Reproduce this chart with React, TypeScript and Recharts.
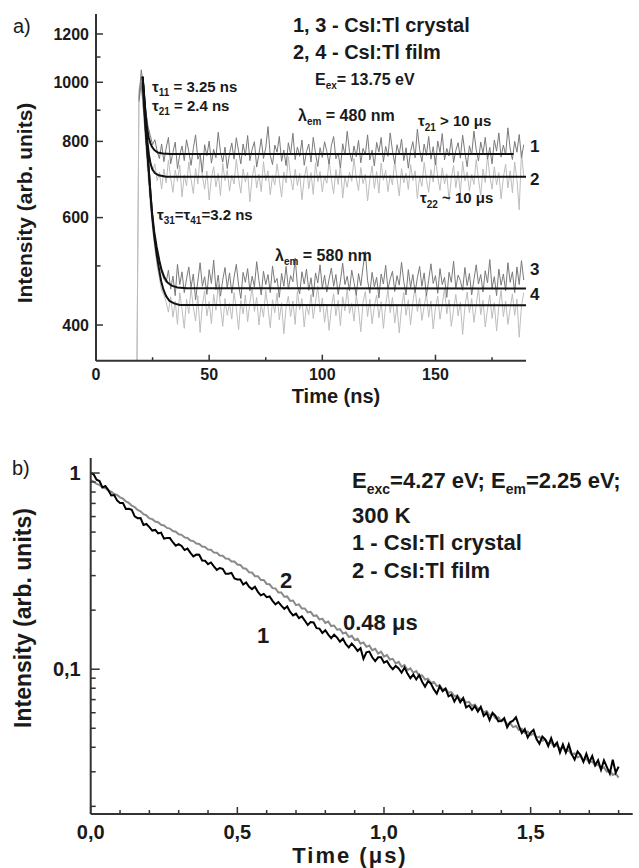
import React from 'react';
import { LineChart, Line, XAxis, YAxis } from 'recharts';

const FONT = '"Liberation Sans", Arial, Helvetica, sans-serif';
const AXIS = '#333333';
const INK = '#1a1a1a';

// ---------- Panel a: time (ns) ----------
const timeA = [
  18, 19, 20, 21, 22, 23, 24, 25, 26, 27,
  28, 29, 30, 31, 32, 33, 34, 35, 36, 37,
  38, 39, 40, 41, 42, 43, 44, 45, 46, 47,
  48, 49, 50, 51, 52, 53, 54, 55, 56, 57,
  58, 59, 60, 61, 62, 63, 64, 65, 66, 67,
  68, 69, 70, 71, 72, 73, 74, 75, 76, 77,
  78, 79, 80, 81, 82, 83, 84, 85, 86, 87,
  88, 89, 90, 91, 92, 93, 94, 95, 96, 97,
  98, 99, 100, 101, 102, 103, 104, 105, 106, 107,
  108, 109, 110, 111, 112, 113, 114, 115, 116, 117,
  118, 119, 120, 121, 122, 123, 124, 125, 126, 127,
  128, 129, 130, 131, 132, 133, 134, 135, 136, 137,
  138, 139, 140, 141, 142, 143, 144, 145, 146, 147,
  148, 149, 150, 151, 152, 153, 154, 155, 156, 157,
  158, 159, 160, 161, 162, 163, 164, 165, 166, 167,
  168, 169, 170, 171, 172, 173, 174, 175, 176, 177,
  178, 179, 180, 181, 182, 183, 184, 185, 186, 187,
  188, 189,
];

// curve 1: CsI:Tl crystal, 480 nm
const crystal480 = [
  null, 940, 1048, 985, 900, 846, 818, 790, 805, 772,
  750, 792, 741, 780, 812, 735, 768, 798, 722, 760,
  786, 744, 805, 770, 731, 779, 820, 748, 765, 712,
  790, 758, 801, 737, 776, 752, 828, 769, 740, 783,
  722, 764, 795, 748, 811, 771, 735, 792, 757, 818,
  744, 777, 799, 726, 762, 808, 750, 781, 846, 759,
  733, 789, 768, 815, 742, 774, 730, 796, 762, 825,
  747, 783, 756, 804, 731, 770, 792, 740, 812, 765,
  728, 781, 753, 799, 770, 734, 788, 815, 749, 766,
  724, 793, 760, 831, 771, 742, 786, 755, 803, 738,
  779, 761, 820, 746, 774, 729, 797, 768, 812, 741,
  785, 756, 826, 772, 735, 790, 762, 807, 744, 781,
  723, 770, 799, 752, 838, 776, 741, 792, 759, 815,
  748, 784, 732, 801, 767, 824, 746, 779, 757, 808,
  739, 773, 796, 751, 819, 768, 727, 787, 760, 832,
  775, 743, 798, 764, 812, 748, 782, 735, 804, 771,
  826, 754, 789, 760, 842, 778, 747, 800, 768, 821,
  752, 790,
];

// curve 2: CsI:Tl film, 480 nm
const film480 = [
  320, 975, 1010, 930, 850, 775, 742, 716, 735, 690,
  712, 668, 721, 684, 745, 697, 660, 718, 688, 732,
  649, 705, 676, 740, 693, 657, 722, 681, 760, 702,
  668, 715, 641, 698, 727, 674, 709, 652, 736, 690,
  718, 663, 704, 681, 748, 695, 658, 721, 686, 712,
  637, 699, 730, 671, 707, 662, 741, 689, 716, 654,
  703, 679, 735, 692, 648, 713, 684, 755, 698, 666,
  720, 677, 709, 642, 696, 728, 669, 711, 655, 738,
  687, 714, 661, 702, 683, 744, 694, 657, 719, 680,
  731, 646, 700, 673, 712, 688, 750, 697, 664, 725,
  682, 706, 639, 693, 729, 670, 714, 658, 737, 691,
  717, 662, 704, 679, 746, 695, 651, 722, 684, 710,
  667, 733, 690, 716, 645, 701, 675, 739, 693, 660,
  719, 686, 752, 699, 665, 724, 681, 708, 640, 697,
  730, 672, 715, 656, 742, 689, 713, 663, 706, 680,
  747, 694, 652, 721, 685, 758, 702, 668, 727, 679,
  711, 644, 698, 734, 671, 716, 659, 740, 692, 618,
  770, 700,
];

// curve 3: CsI:Tl crystal, 580 nm
const crystal580 = [
  null, 930, 1000, 900, 800, 720, 650, 600, 556, 528,
  505, 488, 476, 470, 492, 458, 481, 447, 503, 466,
  489, 452, 476, 498, 461, 485, 440, 472, 506, 463,
  480, 449, 493, 468, 511, 457, 483, 446, 474, 497,
  460, 487, 451, 479, 503, 465, 442, 488, 470, 495,
  455, 481, 462, 508, 473, 448, 490, 466, 484, 452,
  500, 469, 477, 444, 486, 463, 499, 458, 482, 471,
  515, 464, 450, 489, 467, 494, 456, 478, 445, 487,
  469, 502, 460, 483, 453, 476, 496, 463, 484, 449,
  472, 505, 466, 481, 455, 492, 470, 447, 486, 464,
  498, 528, 473, 451, 488, 462, 479, 443, 485, 467,
  501, 458, 476, 490, 454, 482, 465, 507, 471, 448,
  493, 461, 484, 452, 478, 499, 463, 487, 446, 474,
  504, 468, 482, 451, 495, 466, 479, 444, 488, 470,
  509, 459, 483, 473, 456, 497, 464, 486, 448, 475,
  502, 467, 484, 453, 491, 469, 512, 460, 480, 447,
  494, 465, 485, 455, 506, 470, 489, 452, 498, 466,
  510, 474,
];

// curve 4: CsI:Tl film, 580 nm
const film580 = [
  300, 960, 990, 890, 790, 700, 628, 575, 535, 500,
  478, 455, 448, 436, 420, 445, 412, 438, 401, 452,
  425, 395, 441, 418, 460, 428, 406, 447, 389, 431,
  455, 414, 437, 402, 449, 423, 466, 430, 398, 442,
  415, 434, 409, 452, 426, 393, 439, 417, 448, 405,
  436, 461, 421, 444, 400, 433, 412, 456, 427, 396,
  440, 419, 451, 408, 435, 387, 428, 446, 413, 438,
  401, 455, 424, 442, 397, 431, 416, 449, 410, 437,
  463, 420, 443, 404, 432, 392, 427, 450, 414, 439,
  399, 445, 422, 459, 418, 434, 406, 447, 425, 390,
  436, 454, 413, 441, 402, 429, 448, 411, 437, 395,
  432, 457, 419, 444, 403, 430, 388, 426, 452, 415,
  440, 400, 435, 462, 421, 443, 407, 429, 451, 412,
  438, 394, 427, 446, 409, 433, 458, 417, 440, 398,
  424, 449, 414, 436, 386, 428, 453, 419, 442, 404,
  431, 460, 416, 439, 397, 425, 448, 410, 435, 391,
  429, 456, 413, 438, 401, 426, 450, 415, 441, 382,
  430, 452,
];

// fitted decays
const fit1T = [20.6, 21.3, 22.0, 22.6, 23.3, 24.0, 24.8, 25.8, 27.3, 29.5, 33, 184.5];
const fit1V = [1021, 950, 880, 840, 812, 795, 783, 774, 767, 764, 763, 763];
const fit2T = [20.6, 21.3, 22.0, 22.7, 23.4, 24.1, 24.9, 26.0, 27.7, 31, 190];
const fit2V = [1021, 945, 865, 800, 760, 735, 720, 710, 704, 700, 700];
const fit3T = [20.6, 21.3, 22.0, 22.7, 23.4, 24.1, 24.8, 25.7, 26.8, 28.0, 29.0, 30.2, 31.5, 33.5, 36, 40, 190];
const fit3V = [1021, 920, 835, 770, 712, 655, 610, 570, 537, 510, 492, 479, 470, 464, 461, 459.5, 459];
const fit4T = [20.6, 21.3, 22.0, 22.7, 23.4, 24.1, 24.8, 25.7, 26.8, 27.8, 28.8, 29.8, 31.0, 32.5, 34.5, 37, 190];
const fit4V = [1021, 920, 835, 770, 712, 655, 605, 560, 522, 495, 472, 457, 446, 438, 434, 431.5, 431];

const yTicksA = [400, 500, 600, 700, 800, 900, 1000, 1100, 1200];
const yLabelsA: Record<string, string> = { '400': '400', '600': '600', '800': '800', '1000': '1000', '1200': '1200' };
const xTicksA = [0, 25, 50, 75, 100, 125, 150, 175];
const xLabelsA: Record<string, string> = { '0': '0', '50': '50', '100': '100', '150': '150' };

// ---------- Panel b: time (µs) ----------
const timeB = [
  0.00, 0.01, 0.02, 0.03, 0.04, 0.05, 0.06, 0.07, 0.08, 0.09, 0.10,
  0.11, 0.12, 0.13, 0.14, 0.15, 0.16, 0.17, 0.18, 0.19, 0.20,
  0.21, 0.22, 0.23, 0.24, 0.25, 0.26, 0.27, 0.28, 0.29, 0.30,
  0.31, 0.32, 0.33, 0.34, 0.35, 0.36, 0.37, 0.38, 0.39, 0.40,
  0.41, 0.42, 0.43, 0.44, 0.45, 0.46, 0.47, 0.48, 0.49, 0.50,
  0.51, 0.52, 0.53, 0.54, 0.55, 0.56, 0.57, 0.58, 0.59, 0.60,
  0.61, 0.62, 0.63, 0.64, 0.65, 0.66, 0.67, 0.68, 0.69, 0.70,
  0.71, 0.72, 0.73, 0.74, 0.75, 0.76, 0.77, 0.78, 0.79, 0.80,
  0.81, 0.82, 0.83, 0.84, 0.85, 0.86, 0.87, 0.88, 0.89, 0.90,
  0.91, 0.92, 0.93, 0.94, 0.95, 0.96, 0.97, 0.98, 0.99, 1.00,
  1.01, 1.02, 1.03, 1.04, 1.05, 1.06, 1.07, 1.08, 1.09, 1.10,
  1.11, 1.12, 1.13, 1.14, 1.15, 1.16, 1.17, 1.18, 1.19, 1.20,
  1.21, 1.22, 1.23, 1.24, 1.25, 1.26, 1.27, 1.28, 1.29, 1.30,
  1.31, 1.32, 1.33, 1.34, 1.35, 1.36, 1.37, 1.38, 1.39, 1.40,
  1.41, 1.42, 1.43, 1.44, 1.45, 1.46, 1.47, 1.48, 1.49, 1.50,
  1.51, 1.52, 1.53, 1.54, 1.55, 1.56, 1.57, 1.58, 1.59, 1.60,
  1.61, 1.62, 1.63, 1.64, 1.65, 1.66, 1.67, 1.68, 1.69, 1.70,
  1.71, 1.72, 1.73, 1.74, 1.75, 1.76, 1.77, 1.78, 1.79, 1.80,
];

// 1 - CsI:Tl crystal
const crystalB = [
  1.00, 0.985, 0.924, 0.910, 0.845, 0.858, 0.820, 0.769, 0.773, 0.725, 0.703,
  0.703, 0.656, 0.657, 0.650, 0.601, 0.589, 0.590, 0.544, 0.550, 0.530,
  0.509, 0.513, 0.492, 0.497, 0.463, 0.467, 0.466, 0.444, 0.426, 0.434,
  0.425, 0.405, 0.412, 0.392, 0.376, 0.384, 0.383, 0.358, 0.357, 0.343,
  0.350, 0.334, 0.321, 0.328, 0.325, 0.307, 0.307, 0.310, 0.290, 0.287,
  0.287, 0.270, 0.277, 0.263, 0.256, 0.263, 0.248, 0.238, 0.242, 0.233,
  0.235, 0.223, 0.214, 0.220, 0.211, 0.203, 0.209, 0.196, 0.188, 0.192,
  0.182, 0.186, 0.177, 0.168, 0.174, 0.173, 0.162, 0.161, 0.153, 0.158,
  0.150, 0.144, 0.150, 0.145, 0.138, 0.143, 0.134, 0.129, 0.135, 0.130,
  0.124, 0.128, 0.113, 0.122, 0.123, 0.115, 0.110, 0.115, 0.115, 0.108,
  0.110, 0.104, 0.100, 0.104, 0.101, 0.096, 0.102, 0.095, 0.090, 0.094,
  0.0887, 0.0934, 0.0864, 0.0815, 0.0869, 0.0845, 0.0789, 0.0751, 0.0818, 0.0772,
  0.0796, 0.0728, 0.0742, 0.0684, 0.0727, 0.0678, 0.0713, 0.0639, 0.0653, 0.0621,
  0.0649, 0.0609, 0.0643, 0.0579, 0.0600, 0.0550, 0.0599, 0.0578, 0.0542, 0.0545,
  0.0563, 0.0506, 0.0536, 0.0547, 0.0569, 0.0515, 0.0473, 0.0495, 0.0449, 0.0475,
  0.0491, 0.0441, 0.0417, 0.0454, 0.0438, 0.0406, 0.0445, 0.0405, 0.0423, 0.0376,
  0.0414, 0.0376, 0.0414, 0.0369, 0.0346, 0.0381, 0.0365, 0.0337, 0.0371, 0.0335,
  0.0361, 0.0324, 0.0344, 0.0307, 0.0343, 0.0317, 0.0294, 0.0346, 0.0297, 0.0319,
];

// 2 - CsI:Tl film
const filmB = [
  0.920, 0.905, 0.880, 0.870, 0.846, 0.836, 0.814, 0.803, 0.782, 0.773, 0.752,
  0.740, 0.716, 0.704, 0.681, 0.670, 0.648, 0.638, 0.617, 0.608, 0.587,
  0.582, 0.566, 0.561, 0.545, 0.540, 0.525, 0.521, 0.506, 0.502, 0.487,
  0.484, 0.470, 0.467, 0.453, 0.450, 0.437, 0.435, 0.422, 0.420, 0.407,
  0.406, 0.393, 0.392, 0.380, 0.379, 0.367, 0.366, 0.354, 0.354, 0.342,
  0.340, 0.327, 0.325, 0.312, 0.311, 0.298, 0.298, 0.285, 0.285, 0.272,
  0.271, 0.259, 0.258, 0.246, 0.246, 0.234, 0.235, 0.223, 0.224, 0.212,
  0.214, 0.204, 0.204, 0.195, 0.196, 0.187, 0.188, 0.179, 0.181, 0.172,
  0.175, 0.166, 0.167, 0.159, 0.160, 0.152, 0.154, 0.146, 0.148, 0.141,
  0.143, 0.135, 0.137, 0.130, 0.132, 0.125, 0.127, 0.120, 0.123, 0.116,
  0.118, 0.112, 0.113, 0.107, 0.109, 0.103, 0.105, 0.099, 0.101, 0.096,
  0.0978, 0.0925, 0.0930, 0.0886, 0.0895, 0.0852, 0.0862, 0.0820, 0.0830, 0.0788,
  0.0798, 0.0758, 0.0765, 0.0728, 0.0735, 0.0700, 0.0708, 0.0675, 0.0682, 0.0650,
  0.0660, 0.0628, 0.0635, 0.0603, 0.0612, 0.0582, 0.0590, 0.0562, 0.0569, 0.0542,
  0.0552, 0.0525, 0.0531, 0.0507, 0.0514, 0.0490, 0.0497, 0.0474, 0.0481, 0.0462,
  0.0470, 0.0448, 0.0453, 0.0432, 0.0438, 0.0418, 0.0424, 0.0403, 0.0410, 0.0393,
  0.0399, 0.0380, 0.0386, 0.0367, 0.0373, 0.0355, 0.0362, 0.0343, 0.0350, 0.0334,
  0.0339, 0.0322, 0.0327, 0.0311, 0.0316, 0.0300, 0.0305, 0.0289, 0.0294, 0.0280,
];

const yTicksB = [0.02, 0.03, 0.04, 0.05, 0.06, 0.07, 0.08, 0.09, 0.1, 0.2, 0.3, 0.4, 0.5, 0.6, 0.7, 0.8, 0.9, 1];
const yLabelsB: Record<string, string> = { '0.1': '0,1', '1': '1' };
const xTicksB = [0, 0.1, 0.2, 0.3, 0.4, 0.5, 0.6, 0.7, 0.8, 0.9, 1, 1.1, 1.2, 1.3, 1.4, 1.5, 1.6, 1.7, 1.8];
const xLabelsB: Record<string, string> = { '0': '0,0', '0.5': '0,5', '1': '1,0', '1.5': '1,5' };

// ---------- table building ----------
const rowsA = timeA.map((t, i) => ({ t, c1: crystal480[i], c2: film480[i], c3: crystal580[i], c4: film580[i] }));
const rowsB = timeB.map((t, i) => ({ t, b1: crystalB[i], b2: filmB[i] }));
const pairs = (T: number[], V: number[]) => T.map((t, i) => ({ t, v: V[i] }));

type TickOpts = { labels: Record<string, string>; major: number; minor: number; size: number; gap: number };

const leftTick = (o: TickOpts) => (p: any) => {
  const { x, y, payload } = p;
  const lab = o.labels[String(payload.value)];
  return (
    <g>
      <line x1={x} y1={y} x2={x + (lab ? o.major : o.minor)} y2={y} stroke={AXIS} strokeWidth={1.5} />
      {lab ? (
        <text x={x - o.gap} y={y} dy="0.36em" textAnchor="end" fontFamily={FONT} fontWeight="bold" fontSize={o.size} fill={INK}>
          {lab}
        </text>
      ) : null}
    </g>
  );
};

const bottomTick = (o: TickOpts) => (p: any) => {
  const { x, y, payload } = p;
  const lab = o.labels[String(payload.value)];
  return (
    <g>
      <line x1={x} y1={y} x2={x} y2={y - (lab ? o.major : o.minor)} stroke={AXIS} strokeWidth={1.5} />
      {lab ? (
        <text x={x} y={y + o.gap} textAnchor="middle" fontFamily={FONT} fontWeight="bold" fontSize={o.size} fill={INK}>
          {lab}
        </text>
      ) : null}
    </g>
  );
};

const T = (props: any) => <text fontFamily={FONT} fontWeight="bold" fill={INK} {...props} />;

export default function App() {
  return (
    <div style={{ position: 'absolute', left: 0, top: 0, width: 639, height: 868, background: '#fff' }}>
      <div style={{ position: 'absolute', left: 0, top: 0 }}>
        <LineChart width={639} height={430} margin={{ top: 14, right: 113, bottom: 29.3, left: 46 }}>
          <XAxis
            dataKey="t"
            type="number"
            domain={[0, 190]}
            allowDataOverflow
            ticks={xTicksA}
            interval={0}
            tickSize={0}
            tickMargin={0}
            tickLine={false}
            axisLine={{ stroke: AXIS, strokeWidth: 2 }}
            tick={bottomTick({ labels: xLabelsA, major: 6, minor: 3.5, size: 16, gap: 19.5 })}
            height={40}
          />
          <YAxis
            type="number"
            scale="log"
            domain={[349.6, 1294]}
            allowDataOverflow
            ticks={yTicksA}
            interval={0}
            tickSize={0}
            tickMargin={0}
            tickLine={false}
            axisLine={{ stroke: AXIS, strokeWidth: 2 }}
            tick={leftTick({ labels: yLabelsA, major: 7, minor: 4.5, size: 16, gap: 7 })}
            width={50}
          />
          <Line data={rowsA} dataKey="c2" stroke="#bdbdbd" strokeWidth={1} dot={false} isAnimationActive={false} />
          <Line data={rowsA} dataKey="c4" stroke="#bdbdbd" strokeWidth={1} dot={false} isAnimationActive={false} />
          <Line data={rowsA} dataKey="c1" stroke="#7a7a7a" strokeWidth={1} dot={false} isAnimationActive={false} />
          <Line data={rowsA} dataKey="c3" stroke="#7a7a7a" strokeWidth={1} dot={false} isAnimationActive={false} />
          <Line data={pairs(fit1T, fit1V)} dataKey="v" stroke="#111" strokeWidth={2} dot={false} isAnimationActive={false} />
          <Line data={pairs(fit2T, fit2V)} dataKey="v" stroke="#111" strokeWidth={2} dot={false} isAnimationActive={false} />
          <Line data={pairs(fit3T, fit3V)} dataKey="v" stroke="#111" strokeWidth={2} dot={false} isAnimationActive={false} />
          <Line data={pairs(fit4T, fit4V)} dataKey="v" stroke="#111" strokeWidth={2} dot={false} isAnimationActive={false} />
        </LineChart>
      </div>

      <div style={{ position: 'absolute', left: 0, top: 430 }}>
        <LineChart width={639} height={438} margin={{ top: 28, right: 6.3, bottom: 14, left: 40.7 }}>
          <XAxis
            dataKey="t"
            type="number"
            domain={[0, 1.848]}
            allowDataOverflow
            ticks={xTicksB}
            interval={0}
            tickSize={0}
            tickMargin={0}
            tickLine={false}
            axisLine={{ stroke: AXIS, strokeWidth: 2 }}
            tick={bottomTick({ labels: xLabelsB, major: 7, minor: 4, size: 20, gap: 25 })}
            height={40}
          />
          <YAxis
            type="number"
            scale="log"
            domain={[0.01828, 1.193]}
            allowDataOverflow
            ticks={yTicksB}
            interval={0}
            tickSize={0}
            tickMargin={0}
            tickLine={false}
            axisLine={{ stroke: AXIS, strokeWidth: 2 }}
            tick={leftTick({ labels: yLabelsB, major: 9, minor: 5, size: 20, gap: 10 })}
            width={50}
          />
          <Line data={rowsB} dataKey="b2" stroke="#8a8a8a" strokeWidth={2} dot={false} isAnimationActive={false} />
          <Line data={rowsB} dataKey="b1" stroke="#000" strokeWidth={2} dot={false} isAnimationActive={false} />
        </LineChart>
      </div>

      <svg width={639} height={868} style={{ position: 'absolute', left: 0, top: 0, pointerEvents: 'none' }}>
        {/* panel a */}
        <text x={13} y={33} fontFamily={FONT} fontSize={20} fill={INK}>a)</text>
        <T transform="translate(32,203) rotate(-90)" textAnchor="middle" fontSize={21}>Intensity (arb. units)</T>
        <T x={336} y={403} textAnchor="middle" fontSize={20}>Time (ns)</T>
        <T x={293} y={32} fontSize={20}>1, 3 - CsI:Tl crystal</T>
        <T x={293} y={59} fontSize={20}>2, 4 - CsI:Tl film</T>
        <T x={315} y={85} fontSize={16}>E<tspan fontSize={10} dy={4}>ex</tspan><tspan dy={-4}>= 13.75 eV</tspan></T>
        <T x={298} y={121} fontSize={16}>λ<tspan fontSize={10} dy={4}>em</tspan><tspan dy={-4}> = 480 nm</tspan></T>
        <T x={152} y={92} fontSize={15}>τ<tspan fontSize={10} dy={4}>11</tspan><tspan dy={-4}> = 3.25 ns</tspan></T>
        <T x={152} y={111} fontSize={15}>τ<tspan fontSize={10} dy={4}>21</tspan><tspan dy={-4}> = 2.4 ns</tspan></T>
        <T x={418} y={126} fontSize={15}>τ<tspan fontSize={10} dy={5}>21</tspan><tspan dy={-5}> &gt; 10 μs</tspan></T>
        <T x={420} y={203} fontSize={15}>τ<tspan fontSize={10} dy={5}>22</tspan><tspan dy={-5}> ~ 10 μs</tspan></T>
        <T x={157} y={220} fontSize={15}>τ<tspan fontSize={10} dy={4}>31</tspan><tspan dy={-4}>=τ</tspan><tspan fontSize={10} dy={4}>41</tspan><tspan dy={-4}>=3.2 ns</tspan></T>
        <T x={275} y={261} fontSize={16}>λ<tspan fontSize={10} dy={4}>em</tspan><tspan dy={-4}> = 580 nm</tspan></T>
        <T x={530} y={152} fontSize={17}>1</T>
        <T x={530} y={185} fontSize={17}>2</T>
        <T x={530} y={275} fontSize={17}>3</T>
        <T x={530} y={300} fontSize={17}>4</T>

        {/* panel b */}
        <text x={12} y={475} fontFamily={FONT} fontSize={20} fill={INK}>b)</text>
        <T transform="translate(31,618) rotate(-90)" textAnchor="middle" fontSize={23}>Intensity (arb. units)</T>
        <T x={350} y={863} textAnchor="middle" fontSize={22} letterSpacing={2}>Time (μs)</T>
        <T x={352} y={488} fontSize={22}>E<tspan fontSize={14} dy={6}>exc</tspan><tspan dy={-6}>=4.27 eV; E</tspan><tspan fontSize={14} dy={6}>em</tspan><tspan dy={-6}>=2.25 eV;</tspan></T>
        <T x={352} y={523} fontSize={22}>300 K</T>
        <T x={352} y={550} fontSize={22}>1 - CsI:Tl crystal</T>
        <T x={352} y={578} fontSize={22}>2 - CsI:Tl film</T>
        <T x={343} y={630} fontSize={22}>0.48 μs</T>
        <T x={280} y={588} fontSize={22}>2</T>
        <T x={257} y={643} fontSize={22}>1</T>
      </svg>
    </div>
  );
}
